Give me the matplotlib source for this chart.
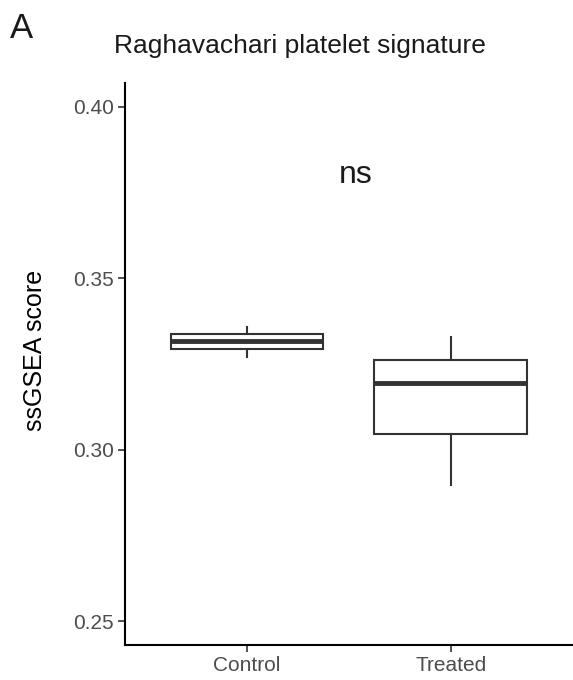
import matplotlib
matplotlib.use("Agg")
import matplotlib.pyplot as plt

plt.rcParams['font.family'] = ['Liberation Sans', 'DejaVu Sans']

# box summaries
groups = ['Control', 'Treated']
whislo = [0.3272, 0.2898]
q1 = [0.3294, 0.3045]
med = [0.3318, 0.3194]
q3 = [0.3338, 0.3262]
whishi = [0.3358, 0.3329]

yticks = [0.25, 0.30, 0.35, 0.40]
title = 'Raghavachari platelet signature'
ylabel = 'ssGSEA score'
sig_label = 'ns'

stats = []
for i in range(len(groups)):
    stats.append(dict(label=groups[i], whislo=whislo[i], q1=q1[i], med=med[i],
                      q3=q3[i], whishi=whishi[i], fliers=[]))

fig = plt.figure(figsize=(5.73, 6.8), dpi=100)
ax = fig.add_axes([0.218, 0.0515, 0.782, 0.8265])

dark = '#333333'
ax.bxp(stats, positions=[1, 2], widths=0.75, showcaps=False, patch_artist=True,
       boxprops=dict(facecolor='white', edgecolor=dark, linewidth=1.5),
       whiskerprops=dict(color=dark, linewidth=1.5),
       medianprops=dict(color=dark, linewidth=3.5, solid_capstyle='butt'))

ax.set_xlim(0.4, 2.6)
ax.set_ylim(0.2431, 0.4070)
ax.set_yticks(yticks)
ax.set_yticklabels(['%.2f' % v for v in yticks])
ax.set_xticks([1, 2])
ax.set_xticklabels(groups)

for s in ['top', 'right']:
    ax.spines[s].set_visible(False)
for s in ['left', 'bottom']:
    ax.spines[s].set_linewidth(1.5)
    ax.spines[s].set_color('black')

ax.tick_params(axis='both', length=5, width=1.2, color=dark,
               labelcolor='#4D4D4D', labelsize=15, pad=3)

# significance label between the groups
ax.text(1.534, 0.3778, sig_label, ha='center', va='baseline', fontsize=23, color='#1a1a1a')

fig.text(0.061, 0.485, ylabel, rotation=90, ha='center', va='center',
         fontsize=18, color='black')
fig.text(0.523, 0.922, title, ha='center', va='baseline', fontsize=19, color='#1a1a1a')
fig.text(0.0175, 0.944, 'A', ha='left', va='baseline', fontsize=25, color='#1a1a1a')

fig.savefig('out.png', dpi=100)
